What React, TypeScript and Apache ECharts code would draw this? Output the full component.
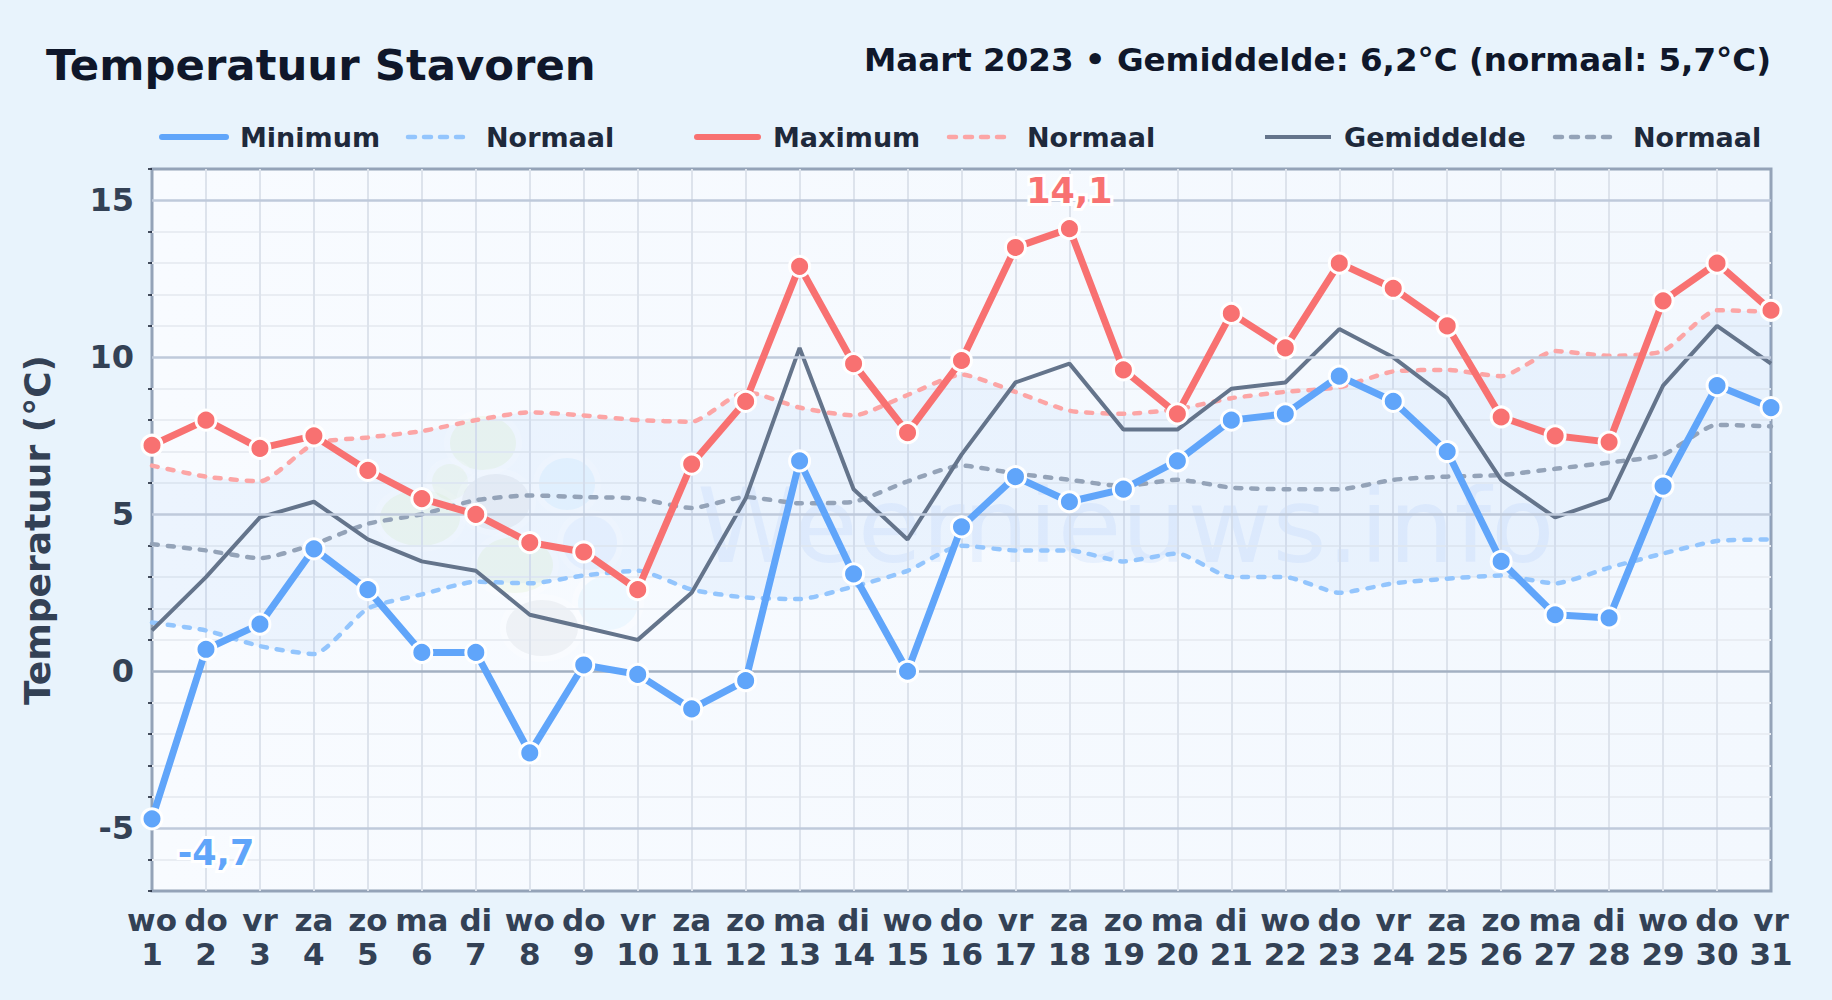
import React, { useEffect, useRef } from "react";
import * as echarts from "echarts";

const weekdays = ["wo","do","vr","za","zo","ma","di","wo","do","vr","za","zo","ma","di","wo","do","vr","za","zo","ma","di","wo","do","vr","za","zo","ma","di","wo","do","vr"];
const categories = weekdays.map((d, i) => `${d}\n${i + 1}`);
const minimum = [-4.7,0.7,1.5,3.9,2.6,0.6,0.6,-2.6,0.2,-0.1,-1.2,-0.3,6.7,3.1,0.0,4.6,6.2,5.4,5.8,6.7,8.0,8.2,9.4,8.6,7.0,3.5,1.8,1.7,5.9,9.1,8.4];
const maximum = [7.2,8.0,7.1,7.5,6.4,5.5,5.0,4.1,3.8,2.6,6.6,8.6,12.9,9.8,7.6,9.9,13.5,14.1,9.6,8.2,11.4,10.3,13.0,12.2,11.0,8.1,7.5,7.3,11.8,13.0,11.5];
const gemiddelde = [1.3,3.0,4.9,5.4,4.2,3.5,3.2,1.8,1.4,1.0,2.5,5.5,10.3,5.8,4.2,6.9,9.2,9.8,7.7,7.7,9.0,9.2,10.9,10.0,8.7,6.1,4.9,5.5,9.1,11.0,9.8];
const normaalMax = [6.55,6.2,6.05,7.25,7.45,7.65,8.0,8.25,8.15,8.0,7.95,8.9,8.4,8.15,8.8,9.45,8.9,8.3,8.2,8.35,8.7,8.9,9.05,9.55,9.6,9.4,10.2,10.05,10.2,11.5,11.45];
const normaalGem = [4.05,3.85,3.6,4.05,4.7,5.0,5.45,5.6,5.55,5.5,5.2,5.55,5.35,5.4,6.05,6.55,6.3,6.1,5.9,6.1,5.85,5.8,5.8,6.1,6.2,6.25,6.45,6.65,6.9,7.85,7.8];
const normaalMin = [1.55,1.3,0.8,0.55,2.0,2.45,2.85,2.8,3.05,3.2,2.6,2.35,2.3,2.7,3.2,4.0,3.85,3.85,3.5,3.75,3.0,3.0,2.5,2.8,2.95,3.05,2.8,3.3,3.75,4.15,4.2];
const majorTicks = [-5, 0, 5, 10, 15];
const minorTicks = [-7,-6,-4,-3,-2,-1,1,2,3,4,6,7,8,9,11,12,13,14,16];

const FONT = '"DejaVu Sans"';
const BLUE = "#60a5fa";
const RED = "#f87171";
const GRAY = "#64748b";
const LEGEND_TEXT = "#1e293b";
const AXIS_TEXT = "#334155";

const comma = (v: number) => String(v).replace(".", ",");

function legendItem(x1: number, x2: number, tx: number, label: string, color: string, width: number, dash: boolean, round: boolean) {
  return [
    { type: "line", shape: { x1, y1: 137, x2, y2: 137 }, z: 10,
      style: { stroke: color, lineWidth: width, lineCap: round ? "round" : "butt", lineDash: dash ? [7, 9] : undefined } },
    { type: "text", x: tx, y: 137, z: 10,
      style: { text: label, fill: LEGEND_TEXT, font: `bold 27px ${FONT}`, textVerticalAlign: "middle", textAlign: "left" } },
  ];
}

function blob(cx: number, cy: number, rx: number, ry: number, fill: string, opacity: number) {
  return [
    { type: "ellipse", shape: { cx, cy, rx: rx + 6, ry: ry + 6 }, z: 0, silent: true, style: { fill: "#ffffff", opacity: 0.3 } },
    { type: "ellipse", shape: { cx, cy, rx, ry }, z: 0, silent: true, style: { fill, opacity } },
  ];
}

function dashedSeries(name: string, data: number[], color: string) {
  return {
    type: "line", name, data, smooth: 0.2, symbol: "none", z: 3, clip: false,
    lineStyle: { color, width: 4.5, type: [6, 10], cap: "round" },
  };
}

function markedSeries(name: string, data: number[], color: string, labelled: any, z: number) {
  return {
    type: "line", name, z, clip: false, symbol: "circle", symbolSize: 20, showSymbol: true,
    lineStyle: { color, width: 7 },
    itemStyle: { color, borderColor: "#ffffff", borderWidth: 3 },
    data: data.map((v, i) => (i === labelled.index ? {
      value: v,
      label: {
        show: true, position: labelled.position, offset: labelled.offset, formatter: comma(v),
        color, fontFamily: FONT, fontWeight: "bold", fontSize: 35,
        textBorderColor: "#ffffff", textBorderWidth: 6,
      },
    } : v)),
  };
}

export default function App() {
  const ref = useRef<HTMLDivElement>(null);
  useEffect(() => {
    const chart = echarts.init(ref.current!, undefined, { renderer: "svg" });
    chart.setOption({
      animation: false,
      backgroundColor: "#e8f3fc",
      grid: {
        left: 152, right: 61, top: 169, bottom: 109, show: true,
        borderColor: "#94a3b8", borderWidth: 3,
        backgroundColor: new echarts.graphic.LinearGradient(0, 0, 1, 0, [
          { offset: 0, color: "#f8fbff" },
          { offset: 1, color: "#f3f8fe" },
        ]),
      },
      xAxis: {
        type: "category", data: categories, boundaryGap: false,
        axisLine: { show: false }, axisTick: { show: false },
        axisLabel: {
          interval: 0, hideOverlap: false, margin: 12, color: AXIS_TEXT,
          fontFamily: FONT, fontWeight: "bold", fontSize: 31, lineHeight: 34,
        },
        splitLine: { show: true, interval: 0, showMinLine: false, showMaxLine: false, lineStyle: { color: "#dde3ec", width: 2 } },
      },
      yAxis: {
        type: "value", min: -7, max: 16, interval: 1,
        name: "Temperatuur (°C)", nameLocation: "middle", nameGap: 97, nameRotate: 90,
        nameTextStyle: { color: AXIS_TEXT, fontFamily: FONT, fontWeight: "bold", fontSize: 36 },
        axisLine: { show: false },
        axisTick: { show: true, length: 4, customValues: minorTicks, lineStyle: { color: "#0f172a", width: 1.5 } },
        axisLabel: {
          margin: 18, color: AXIS_TEXT, fontFamily: FONT, fontWeight: "bold", fontSize: 32,
          customValues: majorTicks,
        },
        splitLine: { show: true, showMinLine: false, showMaxLine: false, lineStyle: { color: "#e9edf3", width: 2 } },
      },
      graphic: [
        { type: "text", x: 46, y: 65, z: 10, style: { text: "Temperatuur Stavoren", fill: "#0f172a", font: `bold 43.4px ${FONT}`, textVerticalAlign: "middle" } },
        { type: "text", x: 1771, y: 60, z: 10, style: { text: "Maart 2023 • Gemiddelde: 6,2°C (normaal: 5,7°C)", fill: "#0f172a", font: `bold 32.5px ${FONT}`, textAlign: "right", textVerticalAlign: "middle" } },
        ...legendItem(162, 226, 240, "Minimum", BLUE, 6, false, true),
        ...legendItem(408, 464, 486, "Normaal", "#93c5fd", 4.5, true, true),
        ...legendItem(697, 758, 773, "Maximum", RED, 6, false, true),
        ...legendItem(949, 1006, 1027, "Normaal", "#fca5a5", 4.5, true, true),
        ...legendItem(1265, 1331, 1344, "Gemiddelde", GRAY, 4, false, false),
        ...legendItem(1555, 1618, 1633, "Normaal", "#94a3b8", 4.5, true, true),
        ...blob(483, 443, 33, 27, "#84cc16", 0.06),
        ...blob(420, 518, 40, 28, "#84cc16", 0.06),
        ...blob(450, 482, 18, 18, "#84cc16", 0.05),
        ...blob(515, 565, 38, 28, "#84cc16", 0.06),
        ...blob(496, 502, 34, 28, "#475569", 0.06),
        ...blob(542, 628, 36, 28, "#475569", 0.06),
        ...blob(567, 484, 28, 26, "#38bdf8", 0.07),
        ...blob(590, 543, 27, 27, "#3b82f6", 0.05),
        ...blob(608, 603, 30, 27, "#38bdf8", 0.06),
        { type: "text", x: 697, y: 526, z: 0, silent: true, style: { text: "Weernieuws.info", fill: "#3b82f6", opacity: 0.07, font: `104px ${FONT}`, textVerticalAlign: "middle" } },
      ],
      series: [
        {
          type: "line", name: "Normaal band basis", data: normaalMin, stack: "band", smooth: 0.2,
          symbol: "none", lineStyle: { opacity: 0 }, z: 1,
          markLine: {
            silent: true, symbol: "none", label: { show: false }, animation: false,
            data: majorTicks.map((v) => ({
              yAxis: v,
              lineStyle: { type: "solid", width: 2.5, color: v === 0 ? "#a3b0c2" : "#bfcadb" },
            })),
          },
        },
        {
          type: "line", name: "Normaal band", data: normaalMax.map((v, i) => +(v - normaalMin[i]).toFixed(2)),
          stack: "band", smooth: 0.2, symbol: "none", lineStyle: { opacity: 0 }, z: 1,
          areaStyle: { color: "rgba(59,130,246,0.06)", opacity: 1 },
        },
        dashedSeries("Normaal minimum", normaalMin, "#93c5fd"),
        dashedSeries("Normaal maximum", normaalMax, "#fca5a5"),
        dashedSeries("Normaal gemiddelde", normaalGem, "#94a3b8"),
        {
          type: "line", name: "Gemiddelde", data: gemiddelde, symbol: "none", z: 4, clip: false,
          lineStyle: { color: GRAY, width: 4 },
        },
        markedSeries("Maximum", maximum, RED, { index: 17, position: "top", offset: [0, -4] }, 5),
        markedSeries("Minimum", minimum, BLUE, { index: 0, position: "bottom", offset: [64, 0] }, 6),
      ],
    });
    return () => chart.dispose();
  }, []);
  return <div ref={ref} style={{ position: "fixed", left: 0, top: 0, width: 1832, height: 1000 }} />;
}
